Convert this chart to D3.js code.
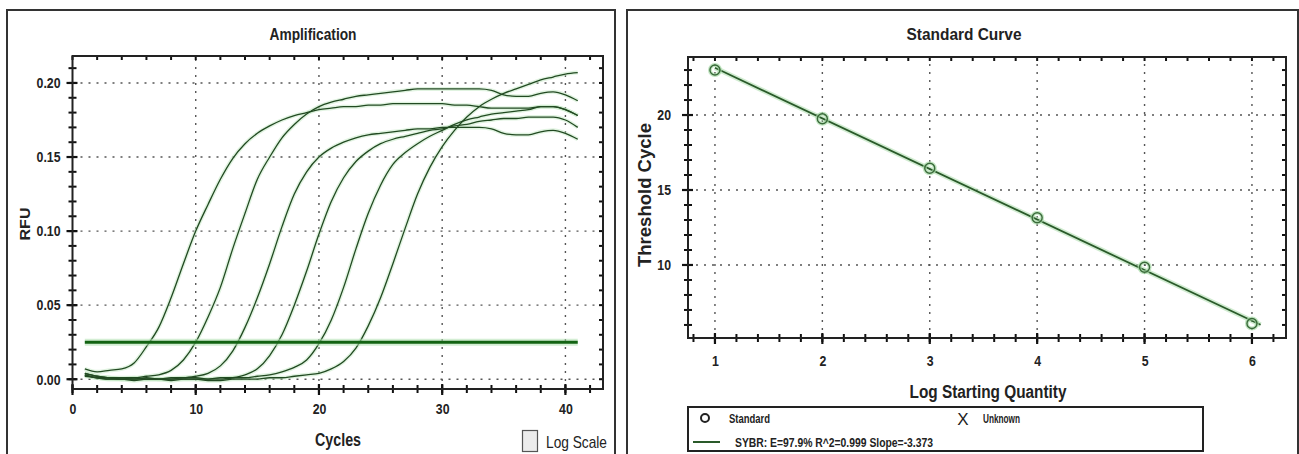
<!DOCTYPE html>
<html>
<head>
<meta charset="utf-8">
<script src="https://cdn.jsdelivr.net/npm/d3@7"></script>
<style>
  body { margin: 0; background: #fff; }
  svg text { font-family: "Liberation Sans", Arial, sans-serif; font-weight: bold; fill: #222; }
</style>
</head>
<body>
<svg id="chart" width="1299" height="454"></svg>
<script>
// ---- amplification data (RFU per cycle) ----
var cycles = d3.range(1, 42);
var rfu1 = [0.007,0.005,0.006,0.007,0.011,0.022,0.035,0.055,0.078,0.100,0.118,0.135,0.149,0.159,0.166,0.171,0.175,0.178,0.180,0.182,0.183,0.184,0.184,0.185,0.185,0.186,0.186,0.186,0.186,0.186,0.185,0.185,0.184,0.183,0.183,0.183,0.183,0.184,0.184,0.182,0.178];
var rfu2 = [0.004,0.002,0.001,0.001,0.001,0.002,0.003,0.006,0.013,0.025,0.042,0.062,0.088,0.112,0.135,0.150,0.163,0.172,0.179,0.184,0.187,0.189,0.191,0.192,0.193,0.194,0.195,0.196,0.196,0.196,0.196,0.196,0.196,0.195,0.192,0.191,0.191,0.193,0.194,0.192,0.188];
var rfu3 = [0.003,0.001,0.001,0.000,0.000,0.001,0.000,0.001,0.001,0.002,0.004,0.009,0.019,0.035,0.055,0.078,0.103,0.125,0.140,0.150,0.156,0.160,0.163,0.165,0.166,0.167,0.168,0.169,0.169,0.170,0.170,0.170,0.170,0.169,0.166,0.165,0.165,0.167,0.168,0.166,0.162];
var rfu4 = [0.002,0.001,0.000,0.000,0.001,0.000,0.000,0.000,0.001,0.001,0.000,0.000,0.001,0.003,0.007,0.016,0.030,0.050,0.073,0.098,0.120,0.136,0.147,0.154,0.159,0.162,0.164,0.166,0.168,0.169,0.171,0.172,0.174,0.175,0.176,0.176,0.177,0.177,0.177,0.175,0.170];
var rfu5 = [0.004,0.002,0.001,0.000,0.000,0.000,0.000,-0.001,0.000,0.000,0.000,0.001,0.001,0.001,0.002,0.003,0.005,0.008,0.013,0.024,0.040,0.062,0.088,0.112,0.131,0.145,0.153,0.159,0.164,0.168,0.172,0.175,0.177,0.179,0.180,0.181,0.182,0.184,0.184,0.182,0.178];
var rfu6 = [0.003,0.001,0.000,0.000,-0.001,0.000,0.000,0.000,0.000,0.000,-0.001,-0.001,0.000,0.000,0.000,0.001,0.001,0.002,0.003,0.004,0.007,0.012,0.021,0.036,0.055,0.078,0.102,0.125,0.143,0.157,0.168,0.177,0.184,0.189,0.193,0.196,0.199,0.202,0.204,0.206,0.207];
var curves = [rfu1, rfu2, rfu3, rfu4, rfu5, rfu6];
var threshold = 0.025;
var ampXTicks = [0, 10, 20, 30, 40];
var ampYTicks = [0, 0.05, 0.10, 0.15, 0.20];

// ---- standard curve data ----
var logQty = [1, 2, 3, 4, 5, 6];
var ctValues = [23.0, 19.75, 16.45, 13.15, 9.85, 6.1];
var fitSlope = -3.373;
var fitRange = [1, 6.08];
var stdXTicks = [1, 2, 3, 4, 5, 6];
var stdYTicks = [10, 15, 20];
var legendText = ["Standard", "Unknown", "SYBR: E=97.9% R^2=0.999 Slope=-3.373"];

var svg = d3.select("#chart");

// panel frames
svg.append("rect").attr("x", 7).attr("y", 10).attr("width", 608).attr("height", 470)
  .attr("fill", "#fff").attr("stroke", "#333").attr("stroke-width", 2);
svg.append("rect").attr("x", 627).attr("y", 10).attr("width", 671).attr("height", 470)
  .attr("fill", "#fff").attr("stroke", "#333").attr("stroke-width", 2);

function drawGrid(x, y, xMajor, yMajor) {
  var x0 = x.range()[0], x1 = x.range()[1], y0 = y.range()[0], y1 = y.range()[1];
  var g = svg.append("g").attr("stroke", "#555").attr("stroke-width", 1.4).attr("stroke-dasharray", "2,6");
  g.selectAll(".vg").data(xMajor.filter(function(d) { return x(d) > x0 + 2; })).enter()
    .append("line").attr("class", "vg")
    .attr("x1", function(d) { return x(d); }).attr("x2", function(d) { return x(d); })
    .attr("y1", y0).attr("y2", y1);
  g.selectAll(".hg").data(yMajor).enter()
    .append("line").attr("class", "hg")
    .attr("x1", x0).attr("x2", x1)
    .attr("y1", function(d) { return y(d); }).attr("y2", function(d) { return y(d); });
}

// short tick marks along a horizontal edge (a = above, b = below)
function ticksH(x, vals, yPos, a, b, w) {
  svg.append("g").selectAll("line").data(vals).enter().append("line")
    .attr("x1", function(d) { return x(d); }).attr("x2", function(d) { return x(d); })
    .attr("y1", yPos - a).attr("y2", yPos + b)
    .attr("stroke", "#111").attr("stroke-width", w);
}
// along a vertical edge (l = left, r = right)
function ticksV(y, vals, xPos, l, r, w) {
  svg.append("g").selectAll("line").data(vals).enter().append("line")
    .attr("y1", function(d) { return y(d); }).attr("y2", function(d) { return y(d); })
    .attr("x1", xPos - l).attr("x2", xPos + r)
    .attr("stroke", "#111").attr("stroke-width", w);
}

function drawFrame(x, y, xMajor, yMajor, xMinorN, yMinorN, xFmt, yFmt, opt) {
  var x0 = x.range()[0], x1 = x.range()[1], y0 = y.range()[0], y1 = y.range()[1];
  var xMinor = x.ticks(xMinorN), yMinor = y.ticks(yMinorN);
  ticksH(x, xMajor, y0, 5, 6, 2.2);
  ticksH(x, xMinor, y0, 4, 4, 2);
  ticksV(y, yMajor, x0, 6, 5, 2.2);
  ticksV(y, yMinor, x0, 4, 4, 2);
  ticksH(x, xMinor, y1, 0, 4, 2);
  ticksV(y, yMinor, x1, 4, 0, 2);

  // labels from the library axes, tick lines hidden
  var bx = svg.append("g").attr("transform", "translate(0," + y0 + ")")
    .call(d3.axisBottom(x).tickValues(xMajor).tickSize(0).tickPadding(opt.xPad).tickFormat(xFmt));
  var ly = svg.append("g").attr("transform", "translate(" + x0 + ",0)")
    .call(d3.axisLeft(y).tickValues(yMajor).tickSize(0).tickPadding(opt.yPad).tickFormat(yFmt));
  [bx, ly].forEach(function(g) {
    g.select(".domain").remove();
    g.selectAll(".tick line").remove();
    g.selectAll("text").style("font-size", opt.font + "px");
  });

  svg.append("rect").attr("x", x0).attr("y", y1).attr("width", x1 - x0).attr("height", y0 - y1)
    .attr("fill", "none").attr("stroke", "#222").attr("stroke-width", 2);
}

function label(txt, x, y, size, len, opts) {
  opts = opts || {};
  var t = svg.append("text").attr("x", x).attr("y", y).text(txt)
    .style("font-size", size + "px")
    .attr("text-anchor", opts.anchor || "middle");
  if (len) t.attr("textLength", len).attr("lengthAdjust", "spacingAndGlyphs");
  if (opts.rotate) t.attr("transform", "rotate(-90," + x + "," + y + ")");
  if (opts.weight) t.style("font-weight", opts.weight);
  return t;
}

// ================= Amplification =================
var xA = d3.scaleLinear().domain([0, 43.05]).range([72.5, 603]);
var yA = d3.scaleLinear().domain([-0.0066, 0.2182]).range([389, 56]);

drawGrid(xA, yA, ampXTicks, ampYTicks);

var ampLine = d3.line()
  .x(function(d, i) { return xA(cycles[i]); })
  .y(function(d) { return yA(d); })
  .curve(d3.curveMonotoneX);

var curveG = svg.append("g");
curves.forEach(function(c) {
  curveG.append("path").attr("d", ampLine(c)).attr("fill", "none")
    .attr("stroke", "#c2e8c2").attr("stroke-width", 4).attr("stroke-opacity", 0.5);
});
curves.forEach(function(c) {
  curveG.append("path").attr("d", ampLine(c)).attr("fill", "none")
    .attr("stroke", "#224a22").attr("stroke-width", 1.3);
});

// threshold line
svg.append("line").attr("x1", xA(cycles[0])).attr("x2", xA(cycles[cycles.length - 1]))
  .attr("y1", yA(threshold)).attr("y2", yA(threshold))
  .attr("stroke", "#b0e0b0").attr("stroke-width", 7).attr("stroke-opacity", 0.55);
svg.append("line").attr("x1", xA(cycles[0])).attr("x2", xA(cycles[cycles.length - 1]))
  .attr("y1", yA(threshold)).attr("y2", yA(threshold))
  .attr("stroke", "#136313").attr("stroke-width", 3);

drawFrame(xA, yA, ampXTicks, ampYTicks, 20, 22, d3.format("d"), d3.format(".2f"),
  {xPad: 14, yPad: 12, font: 15});

label("Amplification", 313, 40, 17, 87);
label("Cycles", 338, 446, 18, 46);
label("RFU", 30, 224, 15, 33, {rotate: true});

// log scale checkbox
svg.append("rect").attr("x", 522.5).attr("y", 430.5).attr("width", 15).attr("height", 21)
  .attr("fill", "#ececec").attr("stroke", "#555").attr("stroke-width", 1.2);
label("Log Scale", 546, 448, 17, 61, {anchor: "start", weight: "normal"});

// ================= Standard Curve =================
var xS = d3.scaleLinear().domain([0.749, 6.317]).range([688, 1286]);
var yS = d3.scaleLinear().domain([5.13, 23.87]).range([338, 57]);

drawGrid(xS, yS, stdXTicks, stdYTicks);

// regression line from the fitted slope through the data means
var meanX = d3.mean(logQty), meanY = d3.mean(ctValues);
var fitY = function(q) { return meanY + fitSlope * (q - meanX); };
svg.append("line").attr("x1", xS(fitRange[0])).attr("y1", yS(fitY(fitRange[0])))
  .attr("x2", xS(fitRange[1])).attr("y2", yS(fitY(fitRange[1])))
  .attr("stroke", "#b3e0b3").attr("stroke-width", 5).attr("stroke-opacity", 0.6);
svg.append("line").attr("x1", xS(fitRange[0])).attr("y1", yS(fitY(fitRange[0])))
  .attr("x2", xS(fitRange[1])).attr("y2", yS(fitY(fitRange[1])))
  .attr("stroke", "#2a5a2a").attr("stroke-width", 1.8);

var pts = svg.append("g").selectAll("g").data(logQty).enter().append("g");
pts.append("circle").attr("cx", function(d) { return xS(d); })
  .attr("cy", function(d, i) { return yS(ctValues[i]); }).attr("r", 5)
  .attr("fill", "none").attr("stroke", "#a9dca9").attr("stroke-width", 4).attr("stroke-opacity", 0.7);
pts.append("circle").attr("cx", function(d) { return xS(d); })
  .attr("cy", function(d, i) { return yS(ctValues[i]); }).attr("r", 5)
  .attr("fill", "none").attr("stroke", "#3a6a3a").attr("stroke-width", 1.4);

drawFrame(xS, yS, stdXTicks, stdYTicks, 28, 18, d3.format("d"), d3.format("d"),
  {xPad: 17, yPad: 17, font: 15});

label("Standard Curve", 964, 40, 17, 115);
label("Log Starting Quantity", 988, 398, 18, 157);
label("Threshold Cycle", 651, 195, 18, 144, {rotate: true});

// legend
svg.append("rect").attr("x", 688).attr("y", 407).attr("width", 515).attr("height", 44)
  .attr("fill", "#fff").attr("stroke", "#222").attr("stroke-width", 2);
svg.append("circle").attr("cx", 705).attr("cy", 418).attr("r", 4)
  .attr("fill", "none").attr("stroke", "#222").attr("stroke-width", 2);
label(legendText[0], 729, 423, 12, 41, {anchor: "start"});
label("X", 963, 425, 17, null, {weight: "normal"});
label(legendText[1], 983, 423, 12, 37, {anchor: "start"});
svg.append("line").attr("x1", 693).attr("x2", 720).attr("y1", 442).attr("y2", 442)
  .attr("stroke", "#2a5a2a").attr("stroke-width", 2);
label(legendText[2], 735, 447, 12, 198, {anchor: "start"});

// the original uses a narrow face: squeeze tick labels to about 82% width
svg.selectAll(".tick text").each(function() {
  if (!this.textContent) return;
  var w = this.getComputedTextLength();
  d3.select(this).attr("textLength", w * 0.82).attr("lengthAdjust", "spacingAndGlyphs");
});
</script>
</body>
</html>
